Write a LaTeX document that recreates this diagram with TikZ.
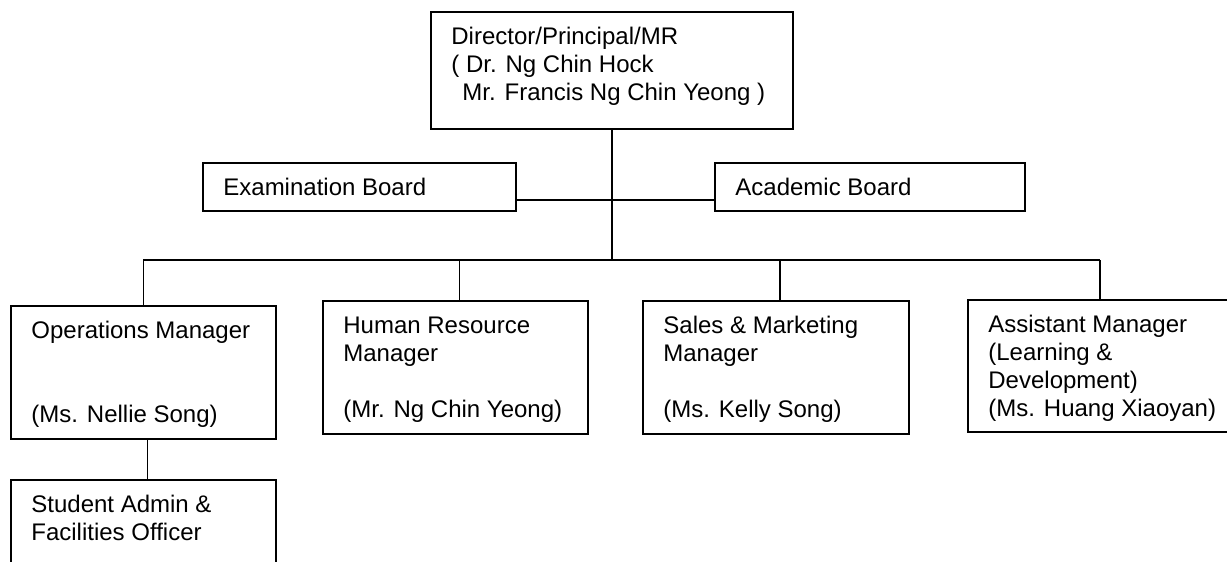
\documentclass[tikz,border=0pt]{standalone}
\usepackage{fontspec}
\setmainfont{Liberation Sans}
\begin{document}
\begin{tikzpicture}[x=0.5pt,y=-0.5pt,
  box/.style={draw, line width=0.8pt, inner sep=0pt, anchor=north west},
  txt/.style={inner sep=0pt, anchor=north west, align=left, font=\fontsize{12}{14}\selectfont},
  conn/.style={line width=0.8pt}]
\useasboundingbox (0,0) rectangle (1227,562);
\clip (0,0) rectangle (1227,562);
% boxes
\node[box, minimum width=181pt, minimum height=58.5pt] (dir) at (430,11) {};
\node[box, minimum width=156.5pt, minimum height=24pt] (exam) at (202,162) {};
\node[box, minimum width=155pt, minimum height=24pt] (acad) at (714,162) {};
\node[box, minimum width=132.5pt, minimum height=66.5pt] (ops) at (10,305) {};
\node[box, minimum width=132.5pt, minimum height=66.5pt] (hr) at (322,300) {};
\node[box, minimum width=133pt, minimum height=66.5pt] (sales) at (642,300) {};
\node[box, minimum width=132pt, minimum height=66pt] (asst) at (967,299) {};
\node[box, minimum width=132.5pt, minimum height=60pt] (stud) at (10,479) {};
% texts
\node[txt] (dirT) at ([xshift=10.5pt,yshift=-6.7pt]dir.north west) {\strut Director/Principal/MR\\( Dr. Ng Chin Hock\\\hspace*{5.5pt}Mr. Francis Ng Chin Yeong )};
\node[txt] (examT) at ([xshift=10.5pt,yshift=-6.7pt]exam.north west) {\strut Examination Board};
\node[txt] (acadT) at ([xshift=10.5pt,yshift=-6.7pt]acad.north west) {\strut Academic Board};
\node[txt] (opsT) at ([xshift=10.5pt,yshift=-6.7pt]ops.north west) {\strut Operations Manager\\[28pt](Ms. Nellie Song)};
\node[txt] (hrT) at ([xshift=10.5pt,yshift=-6.7pt]hr.north west) {\strut Human Resource\\Manager\\[14pt](Mr. Ng Chin Yeong)};
\node[txt] (salesT) at ([xshift=10.5pt,yshift=-6.7pt]sales.north west) {\strut Sales \& Marketing\\Manager\\[14pt](Ms. Kelly Song)};
\node[txt] (asstT) at ([xshift=10.5pt,yshift=-6.7pt]asst.north west) {\strut Assistant Manager\\(Learning \&\\Development)\\(Ms. Huang Xiaoyan)};
\node[txt] (studT) at ([xshift=10.5pt,yshift=-6.7pt]stud.north west) {\strut Student Admin \&\\Facilities Officer};
% connectors
\coordinate (bus) at (613,260);
\coordinate (busL) at (ops.north |- bus);
\coordinate (busR) at (asst.north |- bus);
\draw[conn] (dir.south) -- (dir.south |- bus);
\draw[conn] ([yshift=-6.5pt]exam.east) -- ([yshift=-6.5pt]acad.west);
\draw[conn] (busL) -- (busR);
\draw[conn] (busL) -- (ops.north);
\draw[conn] ([xshift=2pt]hr.north) -- ([xshift=2pt]hr.north |- bus);
\draw[conn] ([xshift=2pt]sales.north) -- ([xshift=2pt]sales.north |- bus);
\draw[conn] (busR) -- (asst.north);
\draw[conn] ([xshift=2pt]ops.south) -- ([xshift=2pt]ops.south |- stud.north);
\end{tikzpicture}
\end{document}
